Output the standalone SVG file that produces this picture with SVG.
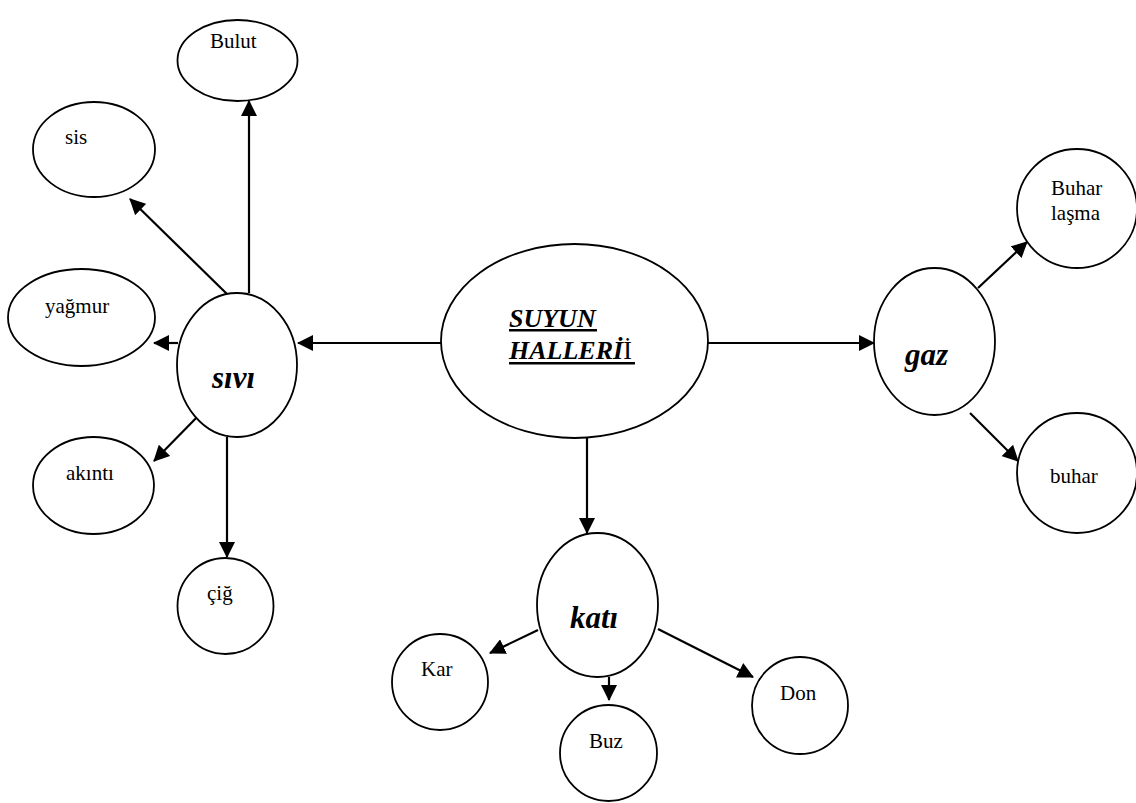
<svg xmlns="http://www.w3.org/2000/svg" width="1136" height="803" viewBox="0 0 1136 803">
<style>
.n{fill:#fff;stroke:#000;stroke-width:1.8}
.t{font-family:'Liberation Serif','Times New Roman','DejaVu Serif',serif;font-size:21px;fill:#000}
.b{font-family:'Liberation Serif','Times New Roman','DejaVu Serif',serif;font-size:31px;font-weight:bold;font-style:italic;fill:#000}
.h{font-family:'Liberation Serif','Times New Roman','DejaVu Serif',serif;font-size:26px;font-weight:bold;font-style:italic;fill:#000}
.c{stroke:#000;stroke-width:2.2;fill:none;marker-end:url(#ah)}
</style>
<defs>
<marker id="ah" viewBox="0 0 16 16" refX="15" refY="8" markerWidth="16" markerHeight="16" markerUnits="userSpaceOnUse" orient="auto">
<path d="M0,0 L16,8 L0,16 z" fill="#000"/>
</marker>
</defs>
<rect width="1136" height="803" fill="#fff"/>
<g id="connectors">
<line class="c" x1="441" y1="343" x2="298" y2="343"/>
<line class="c" x1="708" y1="343" x2="874" y2="343"/>
<line class="c" x1="587" y1="438" x2="587" y2="533"/>
<line class="c" x1="249" y1="293" x2="249" y2="101"/>
<line class="c" x1="227" y1="294" x2="130" y2="199"/>
<line class="c" x1="178" y1="343" x2="154" y2="343"/>
<line class="c" x1="202" y1="412" x2="154" y2="461"/>
<line class="c" x1="227" y1="437" x2="227" y2="557"/>
<line class="c" x1="538" y1="630" x2="490" y2="653"/>
<line class="c" x1="609" y1="677" x2="609" y2="700"/>
<line class="c" x1="658" y1="629" x2="753" y2="677"/>
<line class="c" x1="978" y1="288" x2="1027" y2="242"/>
<line class="c" x1="970" y1="413" x2="1018" y2="461"/>
</g>
<g id="center">
<ellipse class="n" cx="574.5" cy="341" rx="133.5" ry="97"/>
<text class="h" x="509" y="327">SUYUN</text>
<text class="h" x="509" y="359">HALLERİ<tspan font-weight="normal" font-style="normal">İ</tspan></text>
<rect x="509" y="329" width="88" height="2.5" fill="#000"/>
<rect x="509" y="362" width="126" height="2.5" fill="#000"/>
</g>
<g id="sivi">
<ellipse class="n" cx="237" cy="365" rx="60" ry="72"/>
<text class="b" x="212" y="388">sıvı</text>
</g>
<g id="gaz">
<ellipse class="n" cx="934.5" cy="341.5" rx="60.5" ry="73.5"/>
<text class="b" x="905" y="365">gaz</text>
</g>
<g id="kati">
<ellipse class="n" cx="597.5" cy="605" rx="60.5" ry="72"/>
<text class="b" x="570" y="628">katı</text>
</g>
<g id="bulut">
<ellipse class="n" cx="237.5" cy="60.5" rx="60" ry="40.5"/>
<text class="t" x="210" y="48">Bulut</text>
</g>
<g id="sis">
<ellipse class="n" cx="94" cy="149.5" rx="61" ry="47.5"/>
<text class="t" x="65" y="144">sis</text>
</g>
<g id="yagmur">
<ellipse class="n" cx="81.5" cy="317.5" rx="73.5" ry="48.5"/>
<text class="t" x="45" y="313">yağmur</text>
</g>
<g id="akinti">
<ellipse class="n" cx="93.5" cy="485.5" rx="60.5" ry="48.5"/>
<text class="t" x="66" y="480">akıntı</text>
</g>
<g id="cig">
<ellipse class="n" cx="225.5" cy="606" rx="48" ry="48"/>
<text class="t" x="207" y="600">çiğ</text>
</g>
<g id="kar">
<ellipse class="n" cx="440" cy="682" rx="48" ry="48"/>
<text class="t" x="421" y="676">Kar</text>
</g>
<g id="buz">
<ellipse class="n" cx="608.5" cy="753" rx="48.5" ry="48"/>
<text class="t" x="589" y="748">Buz</text>
</g>
<g id="don">
<ellipse class="n" cx="800" cy="705.5" rx="48" ry="48.5"/>
<text class="t" x="780" y="700">Don</text>
</g>
<g id="buharlasma">
<ellipse class="n" cx="1077" cy="208.5" rx="60" ry="59.5"/>
<text class="t" x="1051" y="195">Buhar</text>
<text class="t" x="1051" y="220">laşma</text>
</g>
<g id="buhar">
<ellipse class="n" cx="1077" cy="473" rx="60" ry="60"/>
<text class="t" x="1050" y="483">buhar</text>
</g>
</svg>
